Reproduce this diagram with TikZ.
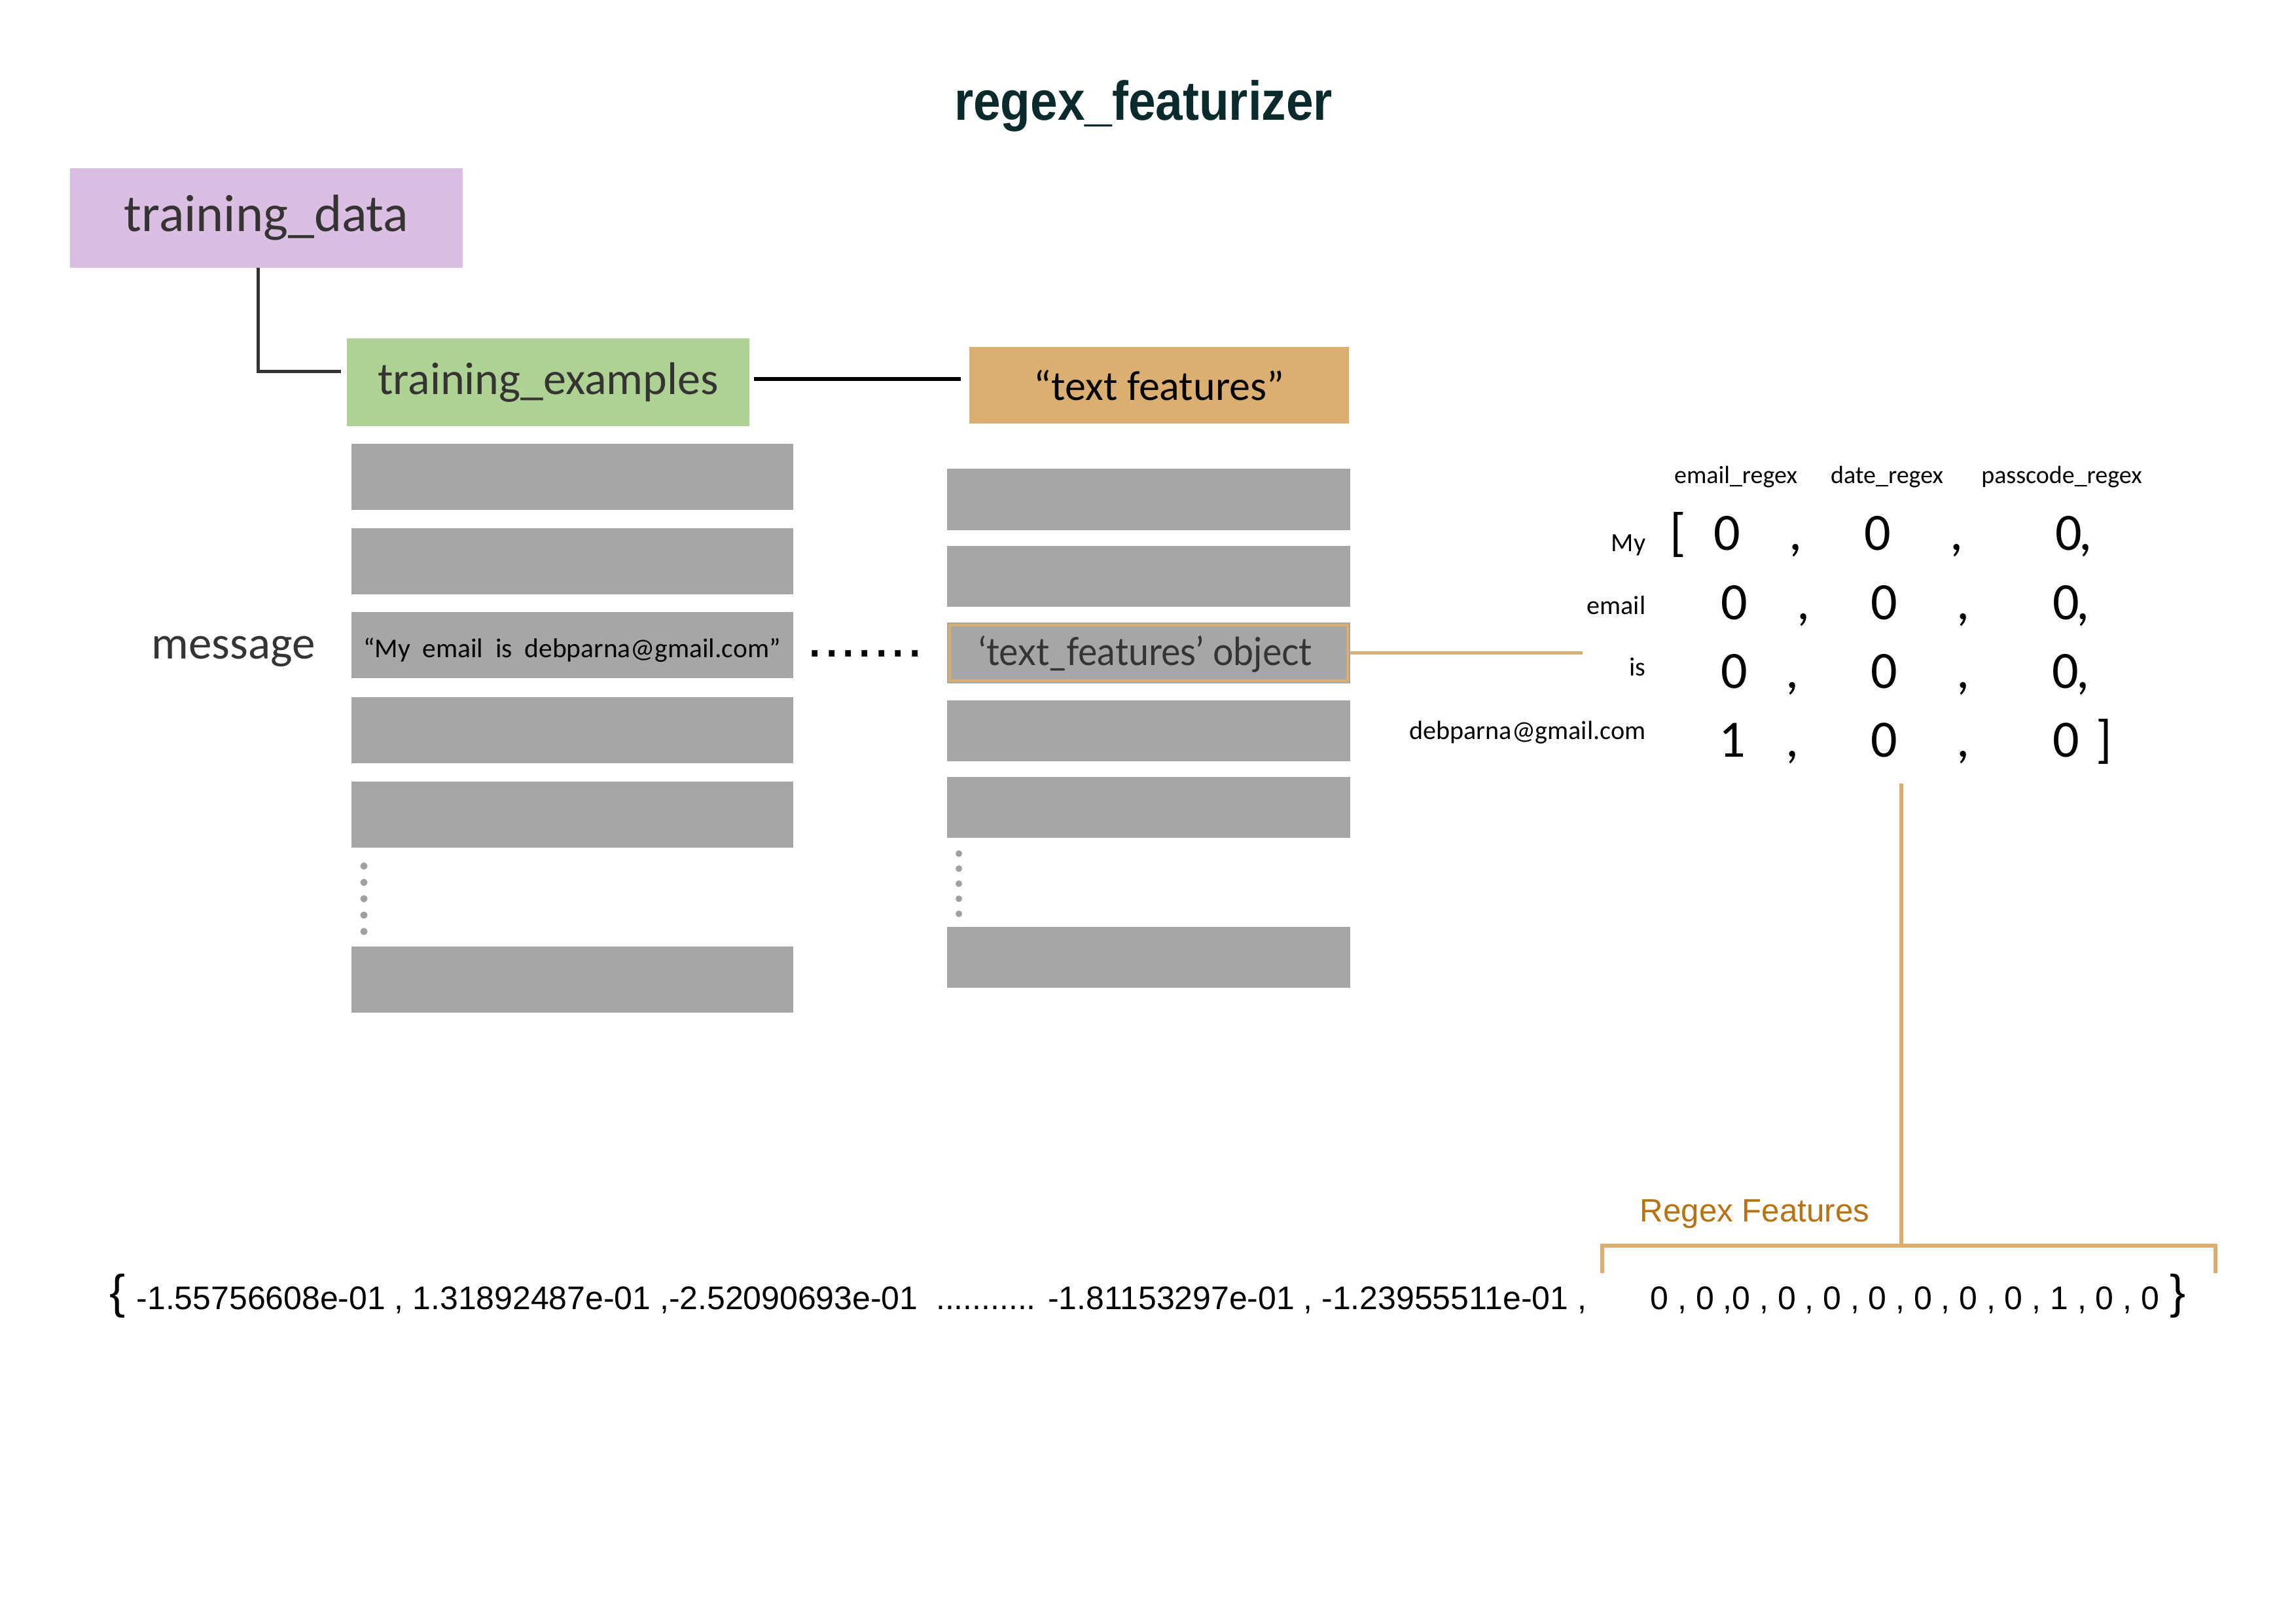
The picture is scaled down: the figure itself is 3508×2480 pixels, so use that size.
\documentclass[tikz,border=0pt]{standalone}
\usepackage{fontspec}
\setmainfont{Carlito}
\newfontfamily\arialf{Liberation Sans}
\newfontfamily\titlef{Liberation Sans}[FakeStretch=0.89]
\newfontfamily\gillf{Lato}[FakeStretch=0.94]
\newcommand\myfs[1]{\fontsize{#1}{#1}\selectfont}
\definecolor{purplebox}{HTML}{DBBFE3}
\definecolor{greenbox}{HTML}{AED294}
\definecolor{orangebox}{HTML}{DBAF6F}
\definecolor{orangeline}{HTML}{DBAE6D}
\definecolor{barg}{HTML}{A6A6A6}
\definecolor{dotg}{HTML}{A0A0A0}
\definecolor{titlec}{HTML}{0B2A2B}
\definecolor{darktext}{HTML}{363333}
\definecolor{regexc}{HTML}{B8720F}
\begin{document}
\begin{tikzpicture}[x=0.01cm,y=-0.01cm,
  colbox/.style={inner sep=0pt, outer sep=0pt, draw=none},
  leftbar/.style={fill=barg, inner sep=0pt, outer sep=0pt, minimum width=6.75cm, minimum height=1.01cm},
  rightbar/.style={fill=barg, inner sep=0pt, outer sep=0pt, minimum width=6.16cm, minimum height=0.93cm},
  darkline/.style={draw=darktext, line width=1.42pt},
  blackline/.style={draw=black, line width=1.7pt},
  orline/.style={draw=orangeline, line width=1.6pt},
  lbl/.style={inner sep=0pt, anchor=base east, font=\myfs{11.4}},
  hdr/.style={inner sep=0pt, anchor=base, font=\myfs{10.8}},
  dig/.style={inner sep=0pt, anchor=base, font=\myfs{22.8}},
  bot/.style={inner sep=0pt, anchor=base west, font=\arialf\myfs{14.2}},
]
\useasboundingbox[fill=white] (0,0) rectangle (3508,2480);

% title
\node[inner sep=0pt, anchor=base, text=titlec, font=\titlef\bfseries\myfs{23.9}] (title) at (1747,183) {regex\_featurizer};

% top boxes
\node[colbox, fill=purplebox, minimum width=6cm, minimum height=1.52cm, text=darktext, font=\myfs{22.8}] (td) at (407,333) {training\_data};
\node[colbox, fill=greenbox, minimum width=6.15cm, minimum height=1.34cm, text=darktext, font=\myfs{19.9}] (te) at (837.5,584) {training\_examples};
\node[colbox, fill=orangebox, minimum width=5.8cm, minimum height=1.17cm, text=black, font=\myfs{18.2}] (tf) at (1771,588.5) {“text features”};

\coordinate (c1) at (521,567);
\draw[darkline] (td.south -| 394,0) |- (c1);
\coordinate (c2) at (1152,579);
\coordinate (c3) at (1468,579);
\draw[blackline] (c2) -- (c3);

% left column
\node[leftbar] (l1) at (874.5,728.5) {};
\node[leftbar] (l2) at (874.5,857.5) {};
\node[leftbar] (l3) at (874.5,985.5) {};
\node[leftbar] (l4) at (874.5,1115) {};
\node[leftbar] (l5) at (874.5,1244.5) {};
\node[leftbar] (l6) at (874.5,1496) {};
\node[inner sep=0pt, anchor=base, font=\myfs{11.8}] (quote) at (874,1004) {“My\ \ email\ \ is\ \ debparna@gmail.com”};
\foreach \yy in {1323,1348,1373,1398,1423} \fill[dotg] (556,\yy) circle[radius=0.055cm];

\node[inner sep=0pt, anchor=base east, text=darktext, font=\myfs{20.2}] (msg) at (482,1006) {message};
\node[inner sep=0pt, anchor=base west, font=\arialf\myfs{26}] (dots) at (1232,1003) {.......};

% right column
\node[rightbar] (r1) at (1755,763) {};
\node[rightbar] (r2) at (1755,880.5) {};
\node[rightbar] (r3) at (1755,997.5) {};
\node[rightbar] (r4) at (1755,1116) {};
\node[rightbar] (r5) at (1755,1233.5) {};
\node[rightbar] (r6) at (1755,1462.5) {};
\draw[draw=orangeline, line width=1.1pt] ([xshift=0.04cm,yshift=-0.04cm]r3.north west) rectangle ([xshift=-0.04cm,yshift=0.04cm]r3.south east);
\node[inner sep=0pt, anchor=base, text=darktext, font=\gillf\myfs{16.8}] (tfo) at (1750,1016) {‘text\_features’ object};
\foreach \yy in {1304,1327,1350,1373,1396} \fill[dotg] (1465,\yy) circle[radius=0.05cm];

\coordinate (m1) at (2418,997.5);
\draw[orline] (r3.east) -- (m1);

% matrix headers
\node[hdr] (h1) at (2652,738) {email\_regex};
\node[hdr] (h2) at (2883,738) {date\_regex};
\node[hdr] (h3) at (3150,738) {passcode\_regex};

% row labels
\node[lbl] (rl1) at (2515,842) {My};
\node[lbl] (rl2) at (2515,938) {email};
\node[lbl] (rl3) at (2515,1032) {is};
\node[lbl] (rl4) at (2515,1129) {debparna@gmail.com};

% row 1
\node[dig] (lb) at (2564,840) {[};
\node[dig] (a11) at (2639,840) {0};
\node[dig] (k11) at (2743,840) {,};
\node[dig] (a12) at (2869,840) {0};
\node[dig] (k12) at (2989,840) {,};
\node[dig] (a13) at (3161,840) {0};
\node[dig] (k13) at (3186,840) {,};
% row 2
\node[dig] (a21) at (2650,946) {0};
\node[dig] (k21) at (2755,946) {,};
\node[dig] (a22) at (2879,946) {0};
\node[dig] (k22) at (2999,946) {,};
\node[dig] (a23) at (3157,946) {0};
\node[dig] (k23) at (3182,946) {,};
% row 3
\node[dig] (a31) at (2650,1051) {0};
\node[dig] (k31) at (2738,1051) {,};
\node[dig] (a32) at (2879,1051) {0};
\node[dig] (k32) at (2999,1051) {,};
\node[dig] (a33) at (3156,1051) {0};
\node[dig] (k33) at (3182,1051) {,};
% row 4
\node[dig] (a41) at (2647,1156) {1};
\node[dig] (k41) at (2738,1156) {,};
\node[dig] (a42) at (2879,1156) {0};
\node[dig] (k42) at (2999,1156) {,};
\node[dig] (a43) at (3157,1156) {0};
\node[dig] (rb) at (3215,1156) {]};

% regex features bracket
\coordinate (v1) at (2905,1197);
\coordinate (v2) at (2905,1903);
\coordinate (bl) at (2448,1945);
\coordinate (br) at (3385,1945);
\draw[orline] (v1) -- (v2);
\draw[orline] (bl) |- (v2) -| (br);
\node[inner sep=0pt, anchor=base, text=regexc, font=\arialf\myfs{14}] (rf) at (2681,1866) {Regex Features};

% bottom line
\node[inner sep=0pt, anchor=base, font=\arialf\myfs{20.5}] (lbr) at (180,1998) {\{};
\node[bot] (n1) at (208,2000) {-1.55756608e-01 , 1.31892487e-01 ,-2.52090693e-01\ \ ........... -1.81153297e-01 , -1.23955511e-01 ,};
\node[bot] (n2) at (2521,2000) {0 , 0 ,0 , 0 , 0 , 0 , 0 , 0 , 0 , 1 , 0 , 0};
\node[inner sep=0pt, anchor=base, font=\arialf\myfs{20.5}] (rbr) at (3328,1998) {\}};
\end{tikzpicture}
\end{document}
